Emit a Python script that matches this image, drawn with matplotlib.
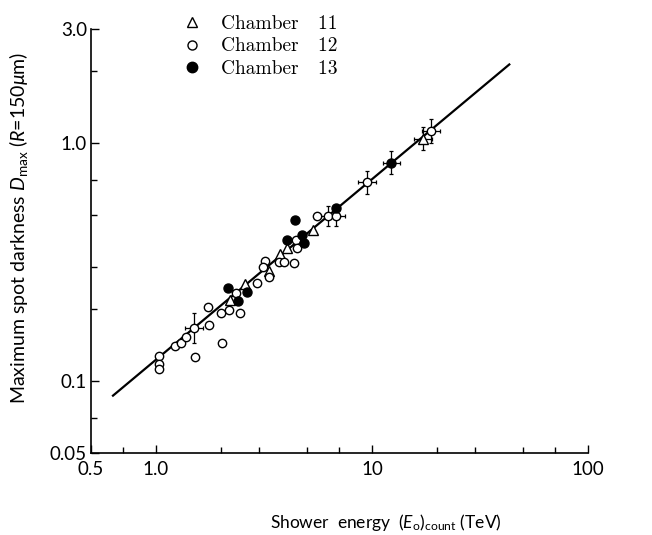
import numpy as np
import matplotlib
matplotlib.use("Agg")
import matplotlib.pyplot as plt

plt.rcParams["font.family"] = ["Lato", "DejaVu Sans"]
plt.rcParams["mathtext.fontset"] = "custom"
plt.rcParams["mathtext.rm"] = "Lato"
plt.rcParams["mathtext.it"] = "Lato:italic"

# Chamber 11 (open triangles)
E11 = [2.20, 2.58, 3.35, 3.75, 4.03, 5.31, 17.2]
D11 = [0.220, 0.256, 0.291, 0.342, 0.363, 0.430, 1.04]

# Chamber 12 (open circles)
E12 = [1.03, 1.035, 1.035, 1.23, 1.30, 1.38, 1.50, 1.52, 1.74, 1.75, 2.01, 1.99,
       2.18, 2.45, 2.35, 2.94, 3.34, 3.20, 3.14, 3.71, 3.91, 4.35, 4.45, 4.51,
       5.55, 6.28, 6.81, 9.45, 18.7]
D12 = [0.127, 0.118, 0.112, 0.141, 0.145, 0.153, 0.167, 0.126, 0.205, 0.172, 0.145, 0.193,
       0.199, 0.193, 0.235, 0.258, 0.273, 0.318, 0.300, 0.315, 0.315, 0.313, 0.391, 0.363,
       0.492, 0.492, 0.492, 0.683, 1.12]

# Chamber 13 (filled circles)
E13 = [2.15, 2.40, 2.63, 4.05, 4.73, 4.86, 4.40, 6.81, 12.3]
D13 = [0.245, 0.217, 0.237, 0.391, 0.410, 0.381, 0.473, 0.534, 0.826]

# points drawn with error crosses (multiplicative errors)
errE = [1.50, 6.28, 6.81, 9.45, 12.3, 17.2, 18.7]
errD = [0.167, 0.492, 0.492, 0.683, 0.826, 1.04, 1.12]
errfx = [1.10, 1.08, 1.10, 1.10, 1.10, 1.10, 1.10]
errfy = [1.16, 1.10, 1.10, 1.12, 1.12, 1.12, 1.12]

# fitted line end points
lineE = [0.632, 43.2]
lineD = [0.087, 2.13]

fig = plt.figure(figsize=(6.52, 5.35), dpi=100)
ax = fig.add_axes([0.1396, 0.1533, 0.7623, 0.7925])

ax.plot(lineE, lineD, color="black", lw=1.6, zorder=2)

eE = np.array(errE)
eD = np.array(errD)
xerr = [eE - eE / np.array(errfx), eE * np.array(errfx) - eE]
yerr = [eD - eD / np.array(errfy), eD * np.array(errfy) - eD]
ax.errorbar(eE, eD, xerr=xerr, yerr=yerr, fmt="none", ecolor="black",
            elinewidth=0.9, capsize=1.5, capthick=0.9, zorder=3)

ax.plot(E11, D11, ls="none", marker="^", ms=6.5, mfc="white", mec="black", mew=1.0, zorder=4)
ax.plot(E12, D12, ls="none", marker="o", ms=6, mfc="white", mec="black", mew=1.0, zorder=4)
ax.plot(E13, D13, ls="none", marker="o", ms=6.5, mfc="black", mec="black", mew=1.0, zorder=5)

ax.set_xscale("log")
ax.set_yscale("log")
ax.set_xlim(0.5, 100)
ax.set_ylim(0.05, 3.0)

ax.set_xticks([0.5, 1, 10, 100])
ax.set_xticklabels(["0.5", "1.0", "10", "100"])
ax.set_xticks([0.7, 2, 3, 5, 7, 20, 30, 50, 70], minor=True)
ax.set_xticklabels([], minor=True)
ax.set_yticks([0.05, 0.1, 1.0, 3.0])
ax.set_yticklabels(["0.05", "0.1", "1.0", "3.0"])
ax.set_yticks([0.07, 0.2, 0.3, 0.5, 0.7, 2.0], minor=True)
ax.set_yticklabels([], minor=True)

ax.tick_params(which="both", direction="in", labelsize=13.5, width=1.0)
ax.tick_params(which="major", length=6)
ax.tick_params(which="minor", length=4)
ax.tick_params(axis="x", pad=6)
ax.tick_params(axis="y", pad=3)

for s in ["top", "right"]:
    ax.spines[s].set_visible(False)
for s in ["left", "bottom"]:
    ax.spines[s].set_linewidth(1.2)

ax.set_xlabel(r"Shower  energy  $(E_{\rm o})_{\rm count}$ (TeV)", fontsize=12.5)
ax.xaxis.set_label_coords(0.594, -0.14)
ax.set_ylabel(r"Maximum spot darkness $D_{\rm max}$ ($R$=150$\mu$m)", fontsize=14)
ax.yaxis.set_label_coords(-0.122, 0.53)

# legend
h11, = ax.plot([], [], ls="none", marker="^", ms=7, mfc="white", mec="black", mew=1.0)
h12, = ax.plot([], [], ls="none", marker="o", ms=6.5, mfc="white", mec="black", mew=1.0)
h13, = ax.plot([], [], ls="none", marker="o", ms=7.5, mfc="black", mec="black")
leg = ax.legend([h11, h12, h13], ["Chamber   11", "Chamber   12", "Chamber   13"],
                loc="upper left", bbox_to_anchor=(0.148, 1.075), frameon=False,
                handletextpad=1.0, labelspacing=0.25, handlelength=1.0,
                prop={"family": ["cmr10", "DejaVu Serif"], "size": 14})

fig.savefig("out.png", dpi=100)
